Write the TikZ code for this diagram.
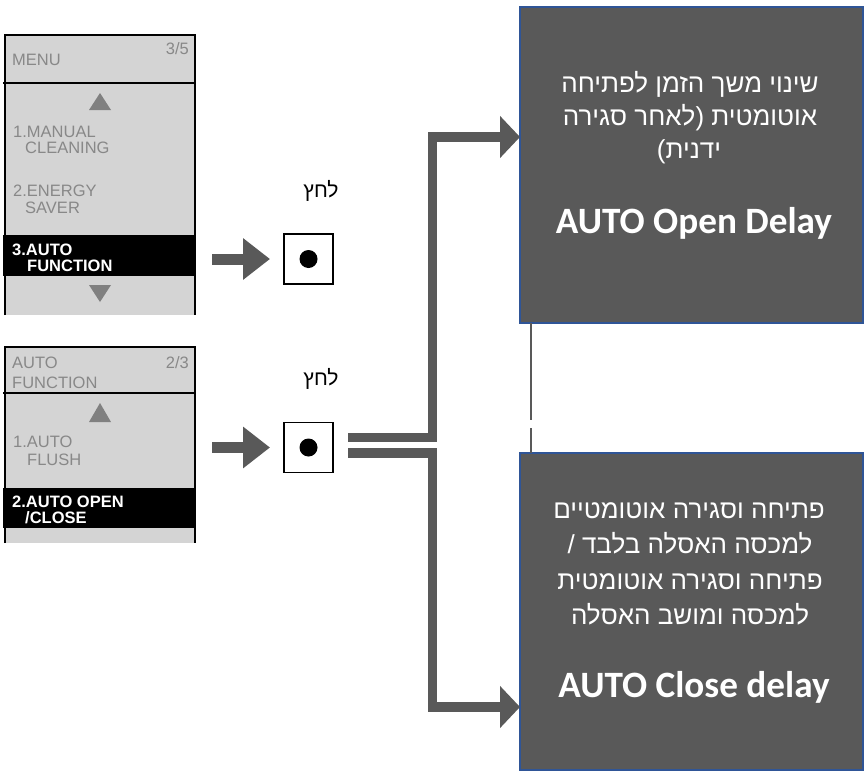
\documentclass[tikz,border=0pt]{standalone}
\usepackage{fontspec}
\setmainfont{Liberation Sans}
\newfontfamily\hebfont[Script=Hebrew]{Liberation Sans}
\newfontfamily\calfont{Carlito}
\TeXXeTstate=1
\usetikzlibrary{arrows.meta}
\definecolor{boxgray}{HTML}{595959}
\definecolor{boxblue}{HTML}{2F5597}
\definecolor{panelgray}{HTML}{D4D4D4}
\definecolor{itemgray}{HTML}{888888}
\definecolor{trigray}{HTML}{808080}
\begin{document}
\begin{tikzpicture}[x=1pt,y=-1pt,
  panelbg/.style={fill=panelgray, draw=none, inner sep=0pt, outer sep=0pt},
  panelline/.style={draw=black, line width=1.4pt},
  selbar/.style={fill=black, draw=none, inner sep=0pt, outer sep=0pt},
  tri/.style={fill=trigray, draw=none},
  item/.style={anchor=base west, text=itemgray, font=\fontsize{16.5}{17}\selectfont, inner sep=0pt},
  selitem/.style={anchor=base west, text=white, font=\bfseries\fontsize{16.5}{17}\selectfont, inner sep=0pt},
  pagenum/.style={anchor=base east, text=itemgray, font=\fontsize{16.5}{17}\selectfont, inner sep=0pt},
  button/.style={draw=black, line width=1.5pt, fill=white, minimum width=49pt, minimum height=50pt, inner sep=0pt, outer sep=0pt},
  buttondot/.style={circle, fill=black, minimum size=18pt, inner sep=0pt},
  presslabel/.style={anchor=base, text=black, font=\hebfont\fontsize{21}{24}\selectfont, inner sep=0pt},
  blockarrow/.style={draw=boxgray, line width=11pt, -{Triangle[length=27pt,width=40pt]}},
  conn/.style={draw=boxgray, line width=9.5pt, line join=miter, -{Triangle[length=20pt,width=41pt]}},
  bigbox/.style={fill=boxgray, draw=boxblue, line width=1.5pt, minimum width=343pt, inner sep=0pt, outer sep=0pt},
  heb/.style={anchor=base, text=white, font=\hebfont\fontsize{26}{30}\selectfont, inner sep=0pt},
  title/.style={anchor=base, text=white, font=\calfont\bfseries\fontsize{37.2}{40}\selectfont, inner sep=0pt}
]
\useasboundingbox (0,0) rectangle (866,776);

% ---------- panel 1 ----------
\node[panelbg, minimum width=190pt, minimum height=280pt] (p1) at (100,175) {};
\node[selbar, minimum width=192pt, minimum height=41pt] (sel1) at (99,255.5) {};
\draw[panelline] (p1.south west) -- (p1.north west) -- (p1.north east) -- (p1.south east);
\draw[panelline] (3,83) -- (p1.east |- 0,83);
\fill[tri] (89,110) -- (100,93) -- (111,110) -- cycle;
\fill[tri] (89,285) -- (100,302) -- (111,285) -- cycle;
\node[item] (m1) at (12,65) {MENU};
\node[pagenum] (pn1) at (189,55) {3/5};
\node[item] (m1a) at (13,137) {1.MANUAL};
\node[item] (m1b) at (25,153) {CLEANING};
\node[item] (m2a) at (13,196) {2.ENERGY};
\node[item] (m2b) at (25,213) {SAVER};
\node[selitem] (m3a) at (12,255) {3.AUTO};
\node[selitem] (m3b) at (27,271) {FUNCTION};

% ---------- panel 2 ----------
\node[panelbg, minimum width=190pt, minimum height=196pt] (p2) at (100,445) {};
\node[selbar, minimum width=192pt, minimum height=40pt] (sel2) at (99,508) {};
\draw[panelline] (p2.south west) -- (p2.north west) -- (p2.north east) -- (p2.south east);
\draw[panelline] (3,393) -- (p2.east |- 0,393);
\fill[tri] (89,422) -- (100,403) -- (111,422) -- cycle;
\node[item] (n1) at (12,368) {AUTO};
\node[item] (n2) at (12,388) {FUNCTION};
\node[pagenum] (pn2) at (189,368) {2/3};
\node[item] (n1a) at (13,447) {1.AUTO};
\node[item] (n1b) at (27,465) {FLUSH};
\node[selitem] (n2a) at (12,507) {2.AUTO OPEN};
\node[selitem] (n2b) at (25,523) {/CLOSE};

% ---------- buttons ----------
\node[button] (b1) at (308.5,259) {};
\node[buttondot] (d1) at (b1.center) {};
\node[button] (b2) at (308.5,447.5) {};
\node[buttondot] (d2) at (b2.center) {};
\node[presslabel] (l1) at (321,197) {\beginR לחץ\endR};
\node[presslabel] (l2) at (321,385) {\beginR לחץ\endR};

\draw[blockarrow, shorten <=17pt, shorten >=14pt] (p1.east |- b1.center) -- (b1.west);
\draw[blockarrow, shorten <=17pt, shorten >=14pt] (p2.east |- b2.center) -- (b2.west);

% ---------- result boxes ----------
\node[bigbox, minimum height=316pt] (box1) at (691.5,165) {};
\node[bigbox, minimum height=317pt] (box2) at (691.5,611.5) {};

\node[heb] (h1a) at (690,92) {\beginR שינוי משך הזמן לפתיחה\endR};
\node[heb] (h1b) at (690,125) {\beginR אוטומטית (לאחר סגירה\endR};
\node[heb] (h1c) at (689,158) {\beginR ידנית)\endR};
\node[title] (t1) at (694,233) {AUTO Open Delay};

\node[heb] (h2a) at (689,518) {\beginR פתיחה וסגירה אוטומטיים\endR};
\node[heb] (h2b) at (690,553) {\beginR למכסה האסלה בלבד /\endR};
\node[heb] (h2c) at (690,589) {\beginR פתיחה וסגירה אוטומטית\endR};
\node[heb] (h2d) at (690,624) {\beginR למכסה ומושב האסלה\endR};
\node[title] (t2) at (694,697) {AUTO Close delay};

% ---------- connectors ----------
\coordinate (s1) at (348,437.5);
\coordinate (s2) at (348,453);
\draw[conn] (s1) -| (432.5,137) -- (box1.west |- 0,137);
\draw[conn] (s2) -| (432.5,707) -- (box2.west |- 0,707);

\draw[draw=boxgray, line width=1.2pt, dash pattern=on 97pt off 8pt on 40pt]
  ([xshift=11pt]box1.south west) -- ([xshift=11pt]box2.north west);
\end{tikzpicture}
\end{document}
